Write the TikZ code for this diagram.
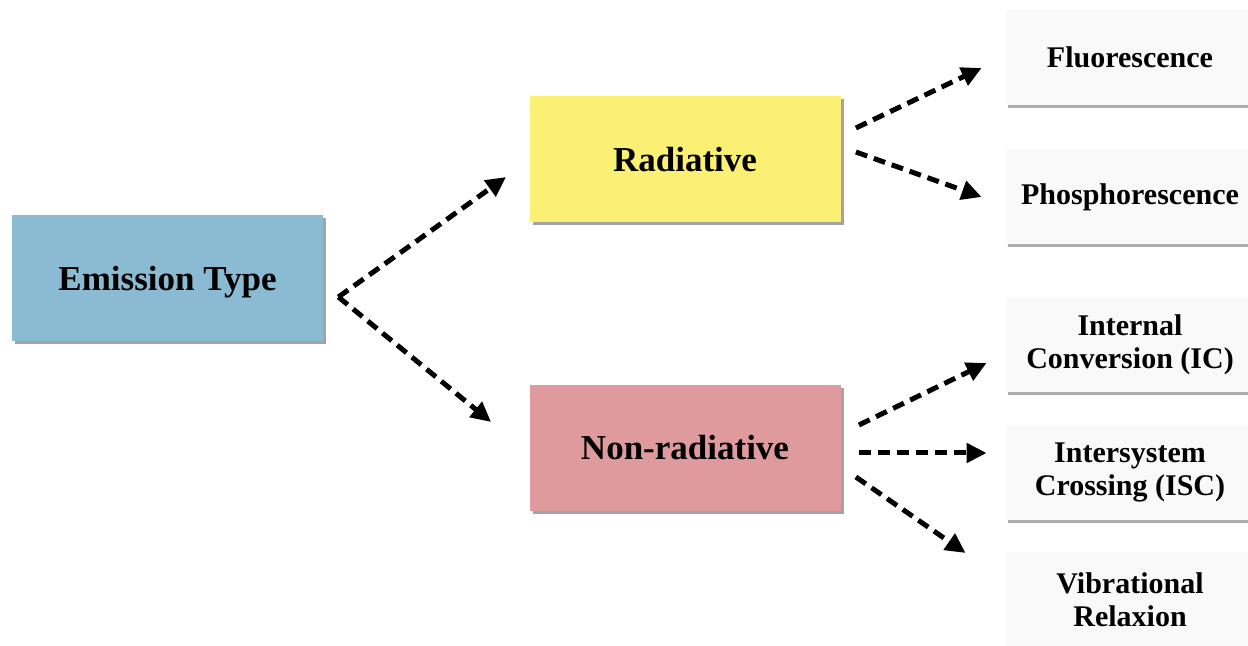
\documentclass[tikz,border=0pt]{standalone}
\usepackage{fontspec}
\setmainfont{Liberation Serif}
\usetikzlibrary{arrows.meta,calc,shadows}

\definecolor{emisblue}{RGB}{138,187,211}
\definecolor{radyellow}{RGB}{252,240,116}
\definecolor{nonradpink}{RGB}{222,154,156}
\definecolor{leafgray}{RGB}{249,249,249}

\begin{document}
\begin{tikzpicture}[x=0.5pt,y=-0.5pt,
  every node/.style={align=center},
  mainbox/.style={minimum width=155.5pt,minimum height=63pt,text height=16pt,text depth=4pt,drop shadow={shadow xshift=1.5pt,shadow yshift=-1.5pt,fill=black!45,opacity=0.8},font=\fontsize{17.5}{20}\selectfont\bfseries},
  leafbox/.style={fill=leafgray,minimum width=124pt,minimum height=47.5pt,drop shadow={shadow xshift=1pt,shadow yshift=-1.5pt,fill=black!40,opacity=0.8},font=\fontsize{15}{16.5}\selectfont\bfseries},
  flow/.style={dash pattern=on 6pt off 3.5pt,line width=2.5pt,-{Triangle[length=10pt,width=9.5pt]}}]
\useasboundingbox (0,0) rectangle (1248,646);
\clip (0,0) rectangle (1248,646);
\node [mainbox,fill=emisblue] (emission) at (167.5,278.5) {Emission Type};
\node [mainbox,fill=radyellow] (radiative) at (685,159.5) {Radiative};
\node [mainbox,fill=nonradpink] (nonrad) at (685,448) {Non-radiative};
\node [leafbox] (fluor) at (1130,57.5) {Fluorescence};
\node [leafbox] (phosph) at (1130,197) {Phosphorescence};
\node [leafbox] (ic) at (1130,344.5) {Internal\\Conversion (IC)};
\node [leafbox] (isc) at (1130,472.5) {Intersystem\\Crossing (ISC)};
\node [leafbox] (vib) at (1130,600) {Vibrational\\Relaxion};
% fork out of the emission box
\coordinate (fork) at ($(emission.east)+(15,18.5)$);
\draw [flow] (fork) -- ($(radiative.west)+(-23,17.5)$);
\draw [flow] (fork) -- ($(nonrad.west)+(-38,-26)$);
% radiative branches
\draw [flow] ($(radiative.east)+(15,-31.5)$) -- ($(fluor.west)+(-24,10.5)$);
\draw [flow] ($(radiative.east)+(15,-7.5)$) -- ($(phosph.west)+(-24,0)$);
% non-radiative branches
\draw [flow] ($(nonrad.east)+(18,-23)$) -- ($(ic.west)+(-19,18.5)$);
\draw [flow] ($(nonrad.east)+(18,5)$) -- ($(isc.west)+(-19,-19.5)$);
\draw [flow] ($(nonrad.east)+(15,29)$) -- ($(vib.west)+(-40,-47)$);
\end{tikzpicture}
\end{document}
